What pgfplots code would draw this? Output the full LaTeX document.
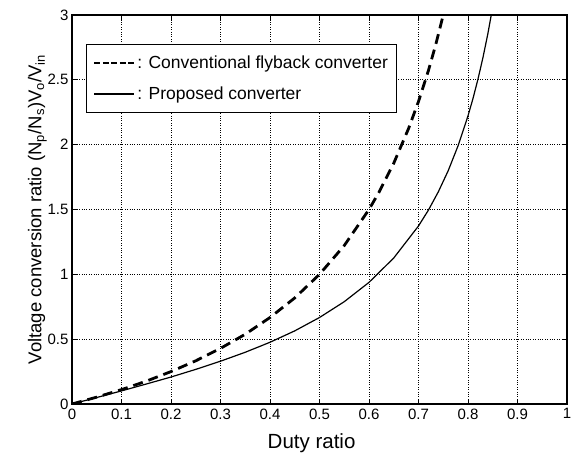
\documentclass[border=0pt]{standalone}
\usepackage{pgfplots}
\pgfplotsset{compat=1.18}
\usepackage{fontspec}
\setmainfont{Liberation Sans}
\begin{document}
\begin{tikzpicture}[x=1pt,y=1pt]
\path (0,0) rectangle (579,452);
\begin{axis}[
  at={(72pt,48pt)}, anchor=south west,
  scale only axis, width=495pt, height=389pt,
  xmin=0, xmax=1, ymin=0, ymax=3,
  xtick={0,0.1,...,1}, ytick={0,0.5,...,3},
  xticklabels={0,0.1,0.2,0.3,0.4,0.5,0.6,0.7,0.8,0.9,1},
  yticklabels={0,0.5,1,1.5,2,2.5,3},
  tick align=inside, major tick length=5pt,
  tick style={black, line width=0.8pt},
  axis line style={line width=1.4pt},
  grid=major, grid style={black, dotted, line width=0.8pt},
  ticklabel style={font=\fontsize{15}{18}\selectfont},
  xticklabel style={yshift=-1pt},
  xlabel={Duty ratio},
  ylabel={Voltage conversion ratio (N\textsubscript{p}/N\textsubscript{s})V\textsubscript{o}/V\textsubscript{in}},
  xlabel style={font=\fontsize{20.5}{24}\selectfont, at={(0.484,0)}, anchor=base, yshift=-45pt},
  ylabel style={font=\fontsize{18.5}{22}\selectfont, yshift=-6pt},
  legend style={at={(0.028,0.925)}, anchor=north west, draw=black, line width=0.8pt,
    font=\fontsize{17.5}{21}\selectfont, row sep=13pt, inner xsep=7pt, inner ysep=9pt},
  legend cell align=left,
]
\addplot[black, line width=2.8pt, dash pattern=on 10pt off 6pt,
  legend image code/.code={\draw[black, line width=2pt, dash pattern=on 6pt off 2.5pt] (0pt,0pt) -- (40pt,0pt);}] coordinates {
(0,0) (0.05,0.053) (0.1,0.111) (0.15,0.176) (0.2,0.25) (0.25,0.333) (0.3,0.429)
(0.35,0.538) (0.4,0.667) (0.45,0.818) (0.5,1.0) (0.55,1.222) (0.6,1.5) (0.62,1.632)
(0.65,1.857) (0.68,2.125) (0.7,2.333) (0.72,2.571) (0.735,2.774) (0.75,3.0)};
\addlegendentry{: Conventional flyback converter}
\addplot[black, line width=1.2pt,
  legend image code/.code={\draw[black, line width=1.8pt] (0pt,0pt) -- (40pt,0pt);}] coordinates {
(0,0) (0.05,0.050) (0.1,0.101) (0.15,0.154) (0.2,0.208) (0.25,0.267) (0.3,0.330)
(0.35,0.399) (0.4,0.476) (0.45,0.564) (0.5,0.667) (0.55,0.789) (0.6,0.938)
(0.65,1.126) (0.7,1.373) (0.72,1.495) (0.74,1.636) (0.76,1.799) (0.78,1.992)
(0.8,2.222) (0.81,2.355) (0.82,2.503) (0.83,2.668) (0.84,2.853) (0.847,3.0)};
\addlegendentry{: Proposed converter}
\end{axis}
\end{tikzpicture}
\end{document}
